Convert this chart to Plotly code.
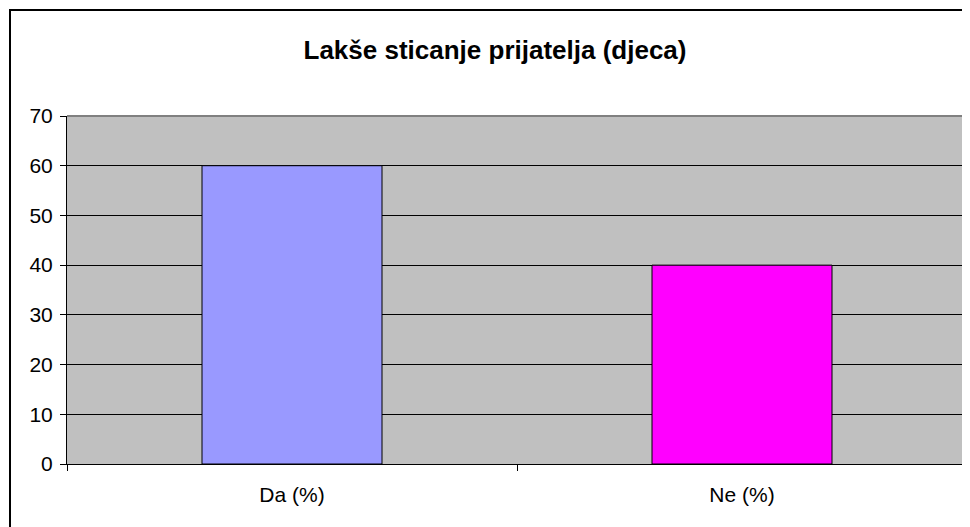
import plotly.graph_objects as go

# data
categories = ["Da (%)", "Ne (%)"]
values = [60, 40]
bar_colors = ["#9999FF", "#FF00FF"]
y_ticks = [0, 10, 20, 30, 40, 50, 60, 70]
title_text = "Lakše sticanje prijatelja (djeca)"

# the page body adds an 8px margin, so work in page pixels and shift back
OFF = 8
W, H = 970 - OFF, 527 - OFF
PL, PR, PT, PB = 67 - OFF, 967 - OFF, 116 - OFF, 464 - OFF

def px_x(p):
    return (p - OFF - PL) / (PR - PL)

def px_y(p):
    return (PB - (p - OFF)) / (PB - PT)

fig = go.Figure()
fig.add_trace(go.Bar(
    x=categories,
    y=values,
    width=0.4,
    marker=dict(color=bar_colors, line=dict(color="black", width=1)),
    hoverinfo="x+y",
))

font = "Arial, 'Liberation Sans', sans-serif"

fig.update_layout(
    width=W, height=H,
    margin=dict(l=PL, r=W - PR, t=PT, b=H - PB, pad=0),
    paper_bgcolor="white",
    plot_bgcolor="#C0C0C0",
    showlegend=False,
    font=dict(family=font, size=21, color="black"),
    title=dict(
        text="<b>" + title_text + "</b>",
        x=(495 - OFF) / W, xanchor="center",
        y=1 - (50 - OFF) / H, yanchor="middle",
        font=dict(family=font, size=26, color="black"),
    ),
    xaxis=dict(
        type="category",
        showgrid=False,
        showline=True, linecolor="black", linewidth=1,
        ticks="outside", tickson="boundaries", ticklen=6,
        tickcolor="black", tickwidth=1,
        tickfont=dict(size=21),
        ticklabelstandoff=12,
        range=[-0.5, 1.5],
        fixedrange=True,
    ),
    yaxis=dict(
        range=[0, 70],
        tickvals=y_ticks,
        showgrid=True, gridcolor="black", gridwidth=1,
        showline=True, linecolor="black", linewidth=1,
        ticks="outside", ticklen=6, tickcolor="black", tickwidth=1,
        tickfont=dict(size=21),
        ticklabelstandoff=3,
        zeroline=False,
        fixedrange=True,
    ),
)

# gray border on top and right of the plot area
fig.add_shape(type="line", xref="paper", yref="paper",
              x0=0, x1=1, y0=1, y1=1,
              line=dict(color="#808080", width=2), layer="above")
fig.add_shape(type="line", xref="paper", yref="paper",
              x0=1, x1=1, y0=px_y(470), y1=1,
              line=dict(color="#808080", width=2), layer="above")

# outer chart border (runs off the right and bottom edge)
fig.add_shape(type="rect", xref="paper", yref="paper",
              x0=px_x(10), x1=px_x(990), y0=px_y(545), y1=px_y(10),
              line=dict(color="black", width=2), layer="above")

fig.write_html("out.html")
